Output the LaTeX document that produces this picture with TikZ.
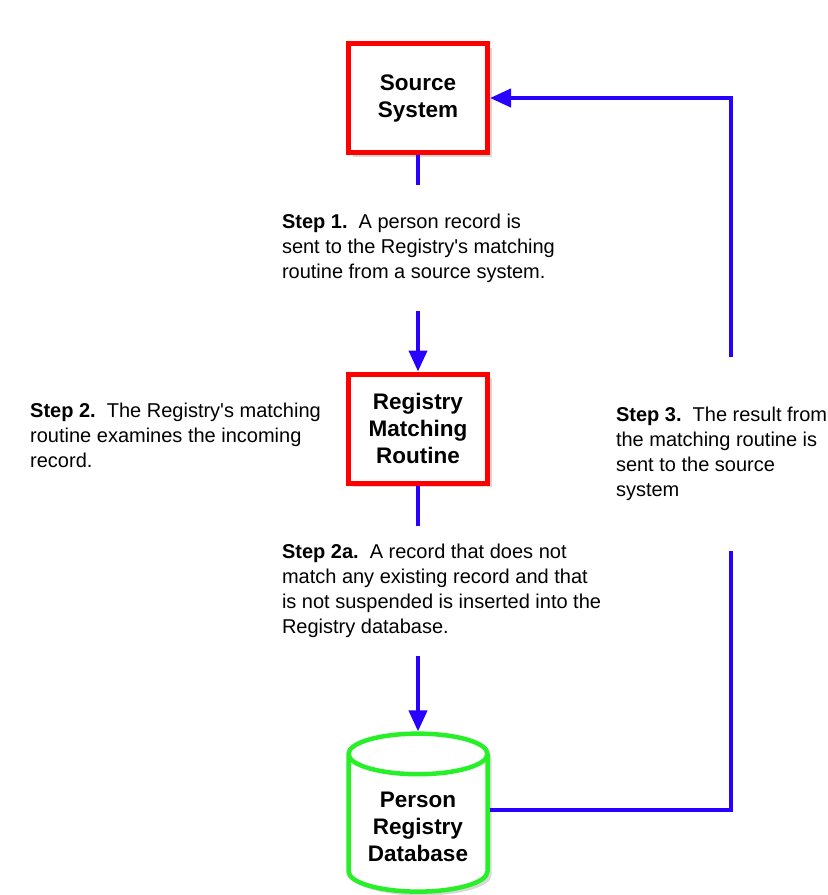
\documentclass[tikz,border=0pt]{standalone}
\usepackage{fontspec}
\setmainfont{Liberation Sans}[Ligatures=TeXOff]
\usetikzlibrary{shapes.geometric,shadows,arrows.meta}
\definecolor{flowblue}{RGB}{40,0,255}
\definecolor{boxred}{RGB}{255,0,0}
\definecolor{dbgreen}{RGB}{40,240,40}
\tikzset{
  boxtext/.style={font=\fontsize{22.5}{27}\selectfont\bfseries, align=center},
  procbox/.style={boxtext, draw=boxred, line width=5pt, fill=white,
    minimum width=139pt, minimum height=109pt,
    drop shadow={shadow xshift=4pt, shadow yshift=-4pt, opacity=0.3}},
  dbshape/.style={boxtext, cylinder, shape border rotate=90, aspect=0.38,
    draw=dbgreen, line width=4.5pt, fill=white,
    minimum width=139pt, minimum height=158pt,
    drop shadow={shadow xshift=4pt, shadow yshift=-4pt, opacity=0.3}},
  flow/.style={draw=flowblue, line width=4pt},
  flowarrow/.style={flow, -{Triangle[length=21pt,width=18pt]}},
  steptext/.style={font=\fontsize{20}{25}\selectfont, align=left, inner xsep=0pt}
}
\begin{document}
\begin{tikzpicture}[x=1pt,y=-1pt]
\useasboundingbox[fill=white] (0,0) rectangle (828,895);

\node[procbox] (src) at (418,98) {Source\\System};
\node[procbox] (reg) at (418,428.5) {Registry\\Matching\\Routine};
\node[dbshape] (db) at (418,827) {Person\\Registry\\Database};

\draw[flowarrow] (src.south) -- node[steptext, pos=0.429, anchor=west, xshift=-138pt, fill=white, inner ysep=29pt]
  {\textbf{Step 1.}\ \ A person record is\\sent to the Registry's matching\\routine from a source system.} (reg.north);

\draw[flowarrow] (reg.south) -- node[steptext, pos=0.43, anchor=west, xshift=-138pt, fill=white, inner ysep=18pt]
  {\textbf{Step 2a.}\ \ A record that does not\\match any existing record and that\\is not suspended is inserted into the\\Registry database.} (db.north);

\node[steptext, anchor=west] (s2) at (30,435.5)
  {\textbf{Step 2.}\ \ The Registry's matching\\routine examines the incoming\\record.};

\coordinate (corner) at (731,98);
\draw[flowarrow] ([yshift=17pt]db.east) -| node[steptext, pos=0.75, anchor=west, xshift=-117pt, fill=white, inner ysep=50pt]
  {\textbf{Step 3.}\ \ The result from\\the matching routine is\\sent to the source\\system} (corner) -- (src.east);
\end{tikzpicture}
\end{document}
